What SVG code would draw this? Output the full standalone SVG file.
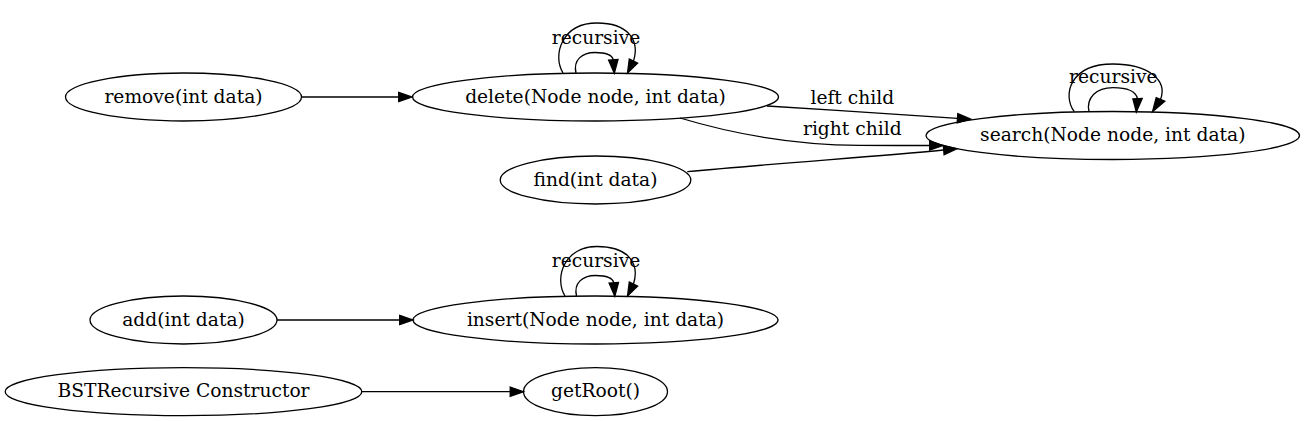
<svg xmlns="http://www.w3.org/2000/svg" width="1305" height="421" viewBox="0 0 1305 421">
<style>
.n ellipse{fill:none;stroke:#000;stroke-width:1.3}
text{font-family:"DejaVu Serif","Liberation Serif",serif;font-size:18.67px;fill:#000;text-anchor:middle}
.e path{fill:none;stroke:#000;stroke-width:1.3}
.e polygon{fill:#000;stroke:#000;stroke-width:1.3}
</style>
<rect width="1305" height="421" fill="#fff"/>
<g id="remove" class="n"><ellipse cx="183.5" cy="97" rx="118" ry="24"/><text x="183.5" y="102.5">remove(int data)</text></g>
<g id="delete" class="n"><ellipse cx="595.5" cy="97" rx="183" ry="24"/><text x="595.5" y="102.5">delete(Node node, int data)</text></g>
<g id="search" class="n"><ellipse cx="1112.75" cy="135.5" rx="186.75" ry="24"/><text x="1112.75" y="141">search(Node node, int data)</text></g>
<g id="find" class="n"><ellipse cx="595.5" cy="180" rx="95.3" ry="24"/><text x="595.5" y="185.5">find(int data)</text></g>
<g id="add" class="n"><ellipse cx="183.5" cy="320" rx="93.5" ry="24"/><text x="183.5" y="325.5">add(int data)</text></g>
<g id="insert" class="n"><ellipse cx="595.5" cy="320" rx="182.5" ry="24"/><text x="595.5" y="325.5">insert(Node node, int data)</text></g>
<g id="bst" class="n"><ellipse cx="183.5" cy="391.7" rx="178.3" ry="24"/><text x="183.5" y="397.2">BSTRecursive Constructor</text></g>
<g id="getRoot" class="n"><ellipse cx="595.5" cy="391.7" rx="72" ry="24"/><text x="595.5" y="397.2">getRoot()</text></g>
<g id="connectors" class="e">
<path d="M302,97 L398.7,97"/><polygon points="398.7,92.3 412,97 398.7,101.7"/>
<path d="M563,73 C552,55 562,23 597,23 C628,23 640,40 633.5,61"/><polygon points="637.7,63.1 627.5,73 629.3,58.9"/>
<path d="M576,73 C573,60 582,52.5 595,52.5 C605,52.5 612,54 613.3,59.8"/><polygon points="618,59.5 614.3,73.2 608.6,60.2"/>
<text x="596" y="43.5">recursive</text>
<path d="M1074.3,111.7 C1062,95 1070,64 1113,64 C1148,64 1168,80 1160.5,99.5"/><polygon points="1164.8,101.3 1152.5,111.7 1156.2,97.7"/>
<path d="M1089,111.7 C1086,98 1096,87.7 1113,87.7 C1128,87.7 1136,92 1137.5,98.7"/><polygon points="1142.2,98.5 1136.3,112 1132.9,98.9"/>
<text x="1113.3" y="83">recursive</text>
<path d="M767,106 C830,110 900,114.5 957.5,118.3"/><polygon points="957.8,113.6 970.8,119.2 957.2,122.9"/>
<text x="852.3" y="104">left child</text>
<path d="M680,118 C720,130 780,145 860,145.3 C885,145.5 905,145.5 929.7,145.5"/><polygon points="929.7,140.8 943,145.5 929.7,150.2"/>
<text x="852.3" y="134.5">right child</text>
<path d="M687.3,171.7 C780,163 870,157 943.7,150"/><polygon points="943.3,145.4 957,148.8 944.1,154.7"/>
<path d="M277,320 L399.7,320"/><polygon points="399.7,315.3 413,320 399.7,324.7"/>
<path d="M565,296 C554,278 564,246.5 597,246.5 C628,246.5 640,263 633.5,284"/><polygon points="637.7,286.1 627.5,296 629.3,281.9"/>
<path d="M576.5,296 C573.5,283 582.5,275.5 595.5,275.5 C605.5,275.5 612.5,277 613.8,282.8"/><polygon points="618.5,282.5 614.8,296.2 609.1,283.2"/>
<text x="596" y="266.5">recursive</text>
<path d="M361.7,391.7 L510.2,391.7"/><polygon points="510.2,387 523.5,391.7 510.2,396.4"/>
</g>
</svg>
